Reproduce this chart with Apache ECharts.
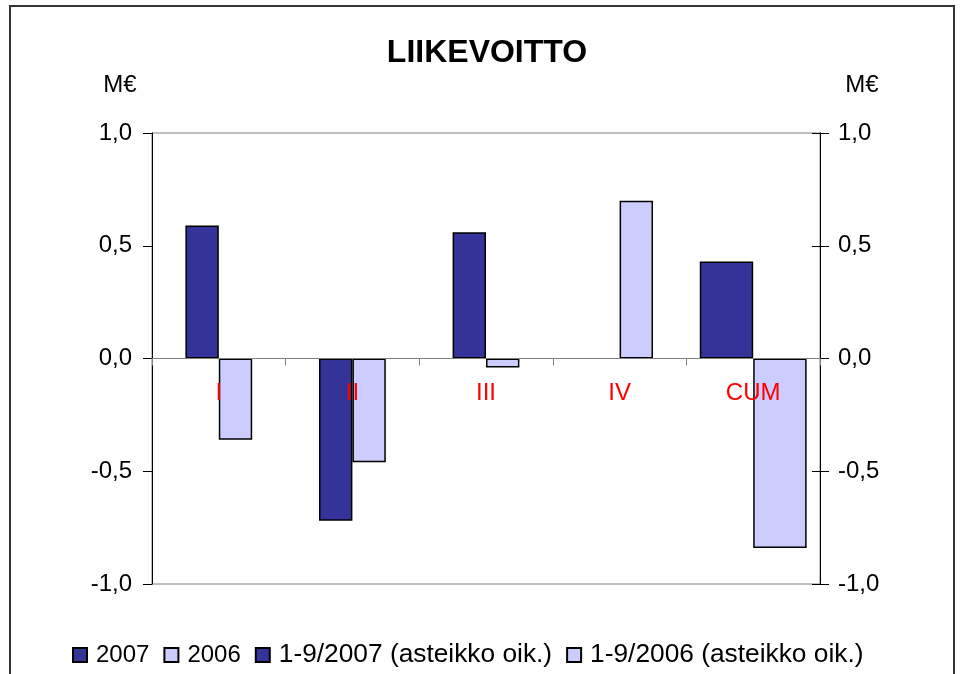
<!DOCTYPE html>
<html>
<head>
<meta charset="utf-8">
<script src="https://cdn.jsdelivr.net/npm/echarts@6/dist/echarts.min.js"></script>
<style>html,body{margin:0;padding:0;background:#fff}#c{width:960px;height:674px}</style>
</head>
<body>
<div id="c"></div>
<script>
var categories = ['I', 'II', 'III', 'IV', 'CUM'];
var values2007 = [0.59, -0.72, 0.56, null, null];
var values2006 = [-0.36, -0.46, -0.04, 0.70, null];
var valuesYtd2007 = [null, null, null, null, 0.43];
var valuesYtd2006 = [null, null, null, null, -0.84];
var seriesNames = ['2007', '2006', '1-9/2007 (asteikko oik.)', '1-9/2006 (asteikko oik.)'];
var yTicks = { min: -1, max: 1, interval: 0.5 };

var FONT = '"Liberation Sans", Arial, sans-serif';
var DARK = '#333399', LIGHT = '#CCCCFF';
function fmt(v) { return v.toFixed(1).replace('.', ','); }

var GRID_TOP = 133, GRID_BOTTOM = 90, H = 674;
var gridH = H - GRID_TOP - GRID_BOTTOM;
var zeroOffset = -gridH * (0 - yTicks.min) / (yTicks.max - yTicks.min);

var chart = echarts.init(document.getElementById('c'), null, { renderer: 'canvas' });
var yAxisBase = {
  type: 'value', min: yTicks.min, max: yTicks.max, interval: yTicks.interval,
  axisLine: { show: true, lineStyle: { color: '#000', width: 1 } },
  axisTick: { show: true, inside: false, length: 9, lineStyle: { color: '#000' } },
  splitLine: { show: false },
  axisLabel: { formatter: fmt, color: '#000', fontSize: 24, fontFamily: FONT }
};
chart.setOption({
  animation: false,
  backgroundColor: '#fff',
  textStyle: { fontFamily: FONT },
  title: [
    { text: 'LIIKEVOITTO', left: 482, top: 32, textAlign: 'center',
      textStyle: { fontSize: 32, fontWeight: 'bold', color: '#000', fontFamily: FONT } },
    { text: 'M€', left: 115, top: 68, textAlign: 'center',
      textStyle: { fontSize: 24, fontWeight: 'normal', color: '#000', fontFamily: FONT } },
    { text: 'M€', left: 857, top: 68, textAlign: 'center',
      textStyle: { fontSize: 24, fontWeight: 'normal', color: '#000', fontFamily: FONT } }
  ],
  graphic: [{
    type: 'rect', z: 100, silent: true,
    shape: { x: 10, y: 6, width: 944, height: 720 },
    style: { fill: 'none', stroke: '#333', lineWidth: 2 }
  }],
  legend: {
    left: 72, top: 642, padding: 0, itemWidth: 14, itemHeight: 14, itemGap: 14,
    icon: 'rect',
    data: seriesNames,
    formatter: function (name) {
      return name.length > 6 ? '{b|' + name + '}' : '{a|' + name + '}';
    },
    textStyle: {
      fontSize: 24, color: '#000', fontFamily: FONT, padding: [0, 0, 0, 4],
      rich: {
        a: { fontSize: 24, color: '#000', fontFamily: FONT },
        b: { fontSize: 26.3, color: '#000', fontFamily: FONT }
      }
    }
  },
  grid: { left: 152, right: 140, top: GRID_TOP, bottom: GRID_BOTTOM, show: true,
          borderColor: '#808080', borderWidth: 1, backgroundColor: '#fff' },
  xAxis: [
    { type: 'category', data: categories, position: 'bottom', offset: zeroOffset, z: 10,
      axisLine: { show: true, onZero: false, lineStyle: { color: '#808080' } },
      axisTick: { show: true, inside: false, length: 7, lineStyle: { color: '#808080' } },
      axisLabel: { color: '#FF0000', fontSize: 24, fontFamily: FONT, margin: 23 },
      splitLine: { show: false } },
    { type: 'category', data: categories, show: false }
  ],
  yAxis: [
    Object.assign({}, yAxisBase, { position: 'left', axisLabel: Object.assign({}, yAxisBase.axisLabel, { margin: 20 }) }),
    Object.assign({}, yAxisBase, { position: 'right', axisLabel: Object.assign({}, yAxisBase.axisLabel, { margin: 18 }) }),
    Object.assign({}, yAxisBase, { position: 'right', axisLabel: { show: false },
      axisTick: { show: true, inside: true, length: 8, lineStyle: { color: '#000' } } })
  ],
  series: [
    { name: seriesNames[0], type: 'bar', xAxisIndex: 0, yAxisIndex: 0, data: values2007,
      barGap: '0%', barCategoryGap: '50%',
      itemStyle: { color: DARK, borderColor: '#000', borderWidth: 1.5 } },
    { name: seriesNames[1], type: 'bar', xAxisIndex: 0, yAxisIndex: 0, data: values2006,
      barGap: '0%', barCategoryGap: '50%',
      itemStyle: { color: LIGHT, borderColor: '#000', borderWidth: 1.5 } },
    { name: seriesNames[2], type: 'bar', xAxisIndex: 1, yAxisIndex: 1, data: valuesYtd2007,
      barGap: '0%', barCategoryGap: '20%',
      itemStyle: { color: DARK, borderColor: '#000', borderWidth: 1.5 } },
    { name: seriesNames[3], type: 'bar', xAxisIndex: 1, yAxisIndex: 1, data: valuesYtd2006,
      barGap: '0%', barCategoryGap: '20%',
      itemStyle: { color: LIGHT, borderColor: '#000', borderWidth: 1.5 } }
  ]
});
</script>
</body>
</html>
